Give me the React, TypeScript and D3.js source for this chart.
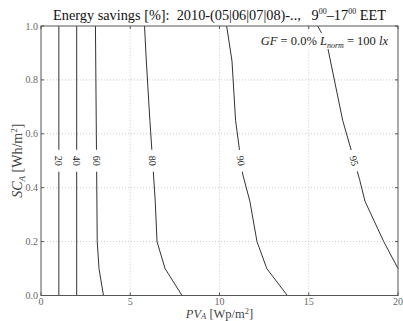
import * as d3 from 'd3';

// contour levels (energy savings %) and their traced paths [PV_A, SC_A]
const levels = [20, 40, 60, 80, 90, 95];
const c20: [number, number][] = [[1.0, 0], [1.0, 1]];
const c40: [number, number][] = [[2.0, 0], [2.0, 1]];
const c60: [number, number][] = [[3.5, 0], [3.25, 0.1], [3.15, 0.2], [3.1, 0.6], [3.05, 1.0]];
const c80: [number, number][] = [[7.9, 0], [6.95, 0.1], [6.5, 0.2], [6.4, 0.35], [6.1, 0.65], [5.9, 0.87], [5.8, 1.0]];
const c90: [number, number][] = [[13.8, 0], [12.65, 0.1], [12.1, 0.2], [11.7, 0.35], [11.3, 0.45], [10.9, 0.65], [10.7, 0.87], [10.4, 1.0]];
const c95: [number, number][] = [[20, 0.1], [19.2, 0.2], [18.15, 0.35], [17.85, 0.43], [16.9, 0.65], [16.0, 0.94], [15.5, 1.0]];
const contours = [c20, c40, c60, c80, c90, c95];

const xTicks = [0, 5, 10, 15, 20];
const yTicks = [0, 0.2, 0.4, 0.6, 0.8, 1.0];
const labelAt = 0.5;

const W = 403;
const H = 321;
const margin = { top: 26, right: 5, bottom: 25.5, left: 41 };
const serif = "'Liberation Serif', 'DejaVu Serif', serif";

export default function App() {
    const x = d3.scaleLinear().domain([0, 20]).range([margin.left, W - margin.right]);
    const y = d3.scaleLinear().domain([0, 1]).range([H - margin.bottom, margin.top]);
    const line = d3.line<[number, number]>().x(d => x(d[0])).y(d => y(d[1]));

    // label position and angle where each contour crosses labelAt
    const labels = contours.map((pts, i) => {
        const sorted = [...pts].sort((a, b) => a[1] - b[1]);
        let k = sorted.findIndex(p => p[1] >= labelAt);
        if (k <= 0) k = 1;
        const a = sorted[k - 1];
        const b = sorted[k];
        const t = (labelAt - a[1]) / (b[1] - a[1]);
        const pv = a[0] + t * (b[0] - a[0]);
        let ang = (Math.atan2(y(b[1]) - y(a[1]), x(b[0]) - x(a[0])) * 180) / Math.PI;
        if (ang > 90) ang -= 180;
        if (ang < -90) ang += 180;
        if (Math.abs(Math.abs(ang) - 90) < 1) ang = 90;
        return { lv: levels[i], px: x(pv), py: y(labelAt), ang };
    });

    const [x0, x1] = x.range();
    const [y0, y1] = y.range();

    return (
        <svg width={W} height={H} style={{ position: 'absolute', left: 0, top: 0, background: '#fff' }} fontFamily={serif}>
            {/* grid */}
            {xTicks.slice(1, -1).map(t => (
                <line key={'gx' + t} x1={x(t)} x2={x(t)} y1={y0} y2={y1} stroke="#bbb" strokeWidth={0.8} strokeDasharray="1,2" />
            ))}
            {yTicks.slice(1, -1).map(t => (
                <line key={'gy' + t} x1={x0} x2={x1} y1={y(t)} y2={y(t)} stroke="#bbb" strokeWidth={0.8} strokeDasharray="1,2" />
            ))}

            {/* contour lines */}
            {contours.map((pts, i) => (
                <path key={'c' + i} d={line(pts) || ''} fill="none" stroke="#333" strokeWidth={1} />
            ))}

            {/* inline labels */}
            {labels.map(l => (
                <g key={'l' + l.lv} transform={`translate(${l.px},${l.py}) rotate(${l.ang})`}>
                    <rect x={-11} y={-5} width={22} height={10} fill="#fff" />
                    <text x={0} y={0} dy="0.35em" textAnchor="middle" fontSize={10} fill="#222">{l.lv}</text>
                </g>
            ))}

            {/* axes frame */}
            <rect x={x0} y={y1} width={x1 - x0} height={y0 - y1} fill="none" stroke="#555" strokeWidth={1} />

            {/* ticks */}
            {xTicks.map(t => (
                <g key={'xt' + t}>
                    <line x1={x(t)} x2={x(t)} y1={y0} y2={y0 - 3} stroke="#555" />
                    <line x1={x(t)} x2={x(t)} y1={y1} y2={y1 + 3} stroke="#555" />
                    <text x={x(t)} y={y0 + 9} textAnchor="middle" fontSize={10} fill="#666">{t}</text>
                </g>
            ))}
            {yTicks.map(t => (
                <g key={'yt' + t}>
                    <line x1={x0} x2={x0 + 3} y1={y(t)} y2={y(t)} stroke="#555" />
                    <line x1={x1} x2={x1 - 3} y1={y(t)} y2={y(t)} stroke="#555" />
                    <text x={x0 - 3} y={y(t)} dy="0.35em" textAnchor="end" fontSize={10} fill="#666">{t.toFixed(1)}</text>
                </g>
            ))}

            {/* axis labels */}
            <text x={(x0 + x1) / 2} y={317.5} textAnchor="middle" fontSize={12.5} fill="#444">
                <tspan fontStyle="italic">PV</tspan>
                <tspan fontStyle="italic" fontSize={8.5} dy={1.5}>A</tspan>
                <tspan dy={-1.5}> [Wp/m</tspan>
                <tspan fontSize={8.5} dy={-4}>2</tspan>
                <tspan dy={4}>]</tspan>
            </text>
            <text transform={`translate(22,${(y0 + y1) / 2}) rotate(-90)`} textAnchor="middle" fontSize={14} fill="#444">
                <tspan fontStyle="italic">SC</tspan>
                <tspan fontStyle="italic" fontSize={9} dy={3}>A</tspan>
                <tspan dy={-3}> [Wh/m</tspan>
                <tspan fontSize={9} dy={-5}>2</tspan>
                <tspan dy={5}>]</tspan>
            </text>

            {/* title */}
            <text x={(x0 + x1) / 2} y={20} textAnchor="middle" fontSize={14.3} fill="#111" style={{ whiteSpace: 'pre' }}>
                <tspan>{'Energy savings [%]:  2010-(05|06|07|08)-..,   9'}</tspan>
                <tspan fontSize={8} dy={-6}>00</tspan>
                <tspan dy={6}>–17</tspan>
                <tspan fontSize={8} dy={-6}>00</tspan>
                <tspan dy={6}> EET</tspan>
            </text>

            {/* annotation box */}
            <rect x={256} y={33} width={135} height={16} fill="#fff" />
            <text x={388} y={45} textAnchor="end" fontSize={12.5} fill="#222" style={{ whiteSpace: 'pre' }}>
                <tspan fontStyle="italic">GF</tspan>
                <tspan> = 0.0% </tspan>
                <tspan fontStyle="italic">L</tspan>
                <tspan fontStyle="italic" fontSize={8} dy={3}>norm</tspan>
                <tspan dy={-3}> = 100 </tspan>
                <tspan fontStyle="italic">lx</tspan>
            </text>
        </svg>
    );
}
